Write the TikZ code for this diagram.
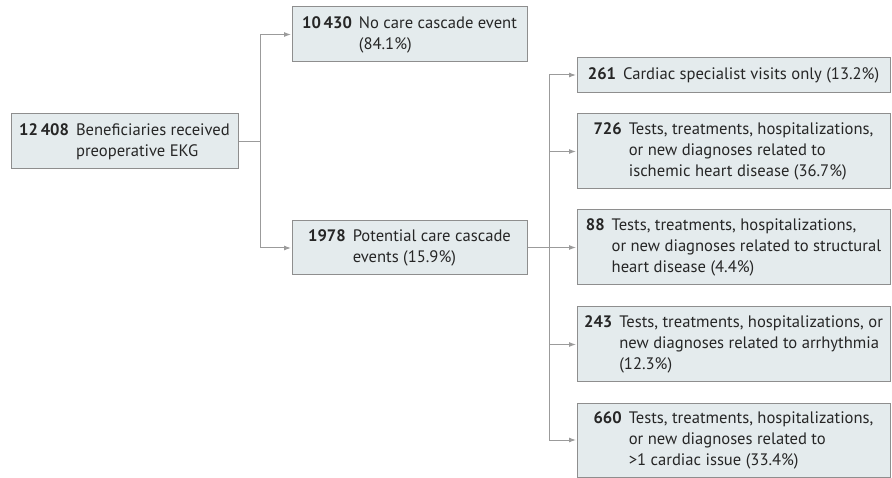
\documentclass[tikz,border=0pt]{standalone}
\usepackage{fontspec}
\setmainfont{PT Sans}
\usetikzlibrary{arrows.meta}
\definecolor{boxfill}{HTML}{E4EBED}
\definecolor{boxline}{HTML}{8E8E8E}
\definecolor{conn}{HTML}{9B9B9B}
\definecolor{txt}{HTML}{262626}
\newcommand{\entry}[2]{\begin{tabular}{@{}r@{\hspace{7pt}}l@{}}\textbf{#1} & #2\end{tabular}}
\tikzset{
  flowbox/.style={draw=boxline, line width=1pt, fill=boxfill, inner sep=0pt, text=txt,
    font=\fontsize{16.6}{21}\selectfont},
  conline/.style={draw=conn, line width=1pt},
  conarrow/.style={conline, -{Latex[length=7pt,width=5pt]}, shorten >=0.5pt},
}
\begin{document}
\begin{tikzpicture}[x=1pt,y=-1pt]
\useasboundingbox (0,0) rectangle (892,478);
\node[flowbox, minimum width=227, minimum height=55] (root) at (124.5,141.5)
  {\entry{12\,408}{Beneficiaries received\\ & preoperative EKG}};
\node[flowbox, minimum width=235, minimum height=55] (top) at (409.5,34.5)
  {\entry{10\,430}{No care cascade event\\ & (84.1\%)}};
\node[flowbox, minimum width=235, minimum height=54] (mid) at (409.5,248)
  {\entry{1978}{Potential care cascade\\ & events (15.9\%)}};
\node[flowbox, minimum width=313, minimum height=35] (r1) at (733.5,75)
  {\entry{261}{Cardiac specialist visits only (13.2\%)}};
\node[flowbox, minimum width=313, minimum height=75] (r2) at (733.5,151.5)
  {\entry{726}{Tests, treatments, hospitalizations,\\ & or new diagnoses related to\\ & ischemic heart disease (36.7\%)}};
\node[flowbox, minimum width=313, minimum height=75] (r3) at (733.5,247.5)
  {\entry{88}{Tests, treatments, hospitalizations,\\ & or new diagnoses related to structural\\ & heart disease (4.4\%)}};
\node[flowbox, minimum width=313, minimum height=75] (r4) at (733.5,344.5)
  {\entry{243}{Tests, treatments, hospitalizations, or\\ & new diagnoses related to arrhythmia\\ & (12.3\%)}};
\node[flowbox, minimum width=313, minimum height=74] (r5) at (733.5,440)
  {\entry{660}{Tests, treatments, hospitalizations,\\ & or new diagnoses related to\\ & >1 cardiac issue (33.4\%)}};
\draw[conline] (root.east) -- ++(22,0) coordinate (j1);
\draw[conarrow] (j1) |- (top.west);
\draw[conarrow] (j1) |- (mid.west);
\draw[conline] (mid.east) -- ++(22,0) coordinate (j2);
\draw[conarrow] (j2) |- (r1.west);
\draw[conarrow] (j2) |- (r2.west);
\draw[conarrow] (j2) |- (r3.west);
\draw[conarrow] (j2) |- (r4.west);
\draw[conarrow] (j2) |- (r5.west);
\end{tikzpicture}
\end{document}
